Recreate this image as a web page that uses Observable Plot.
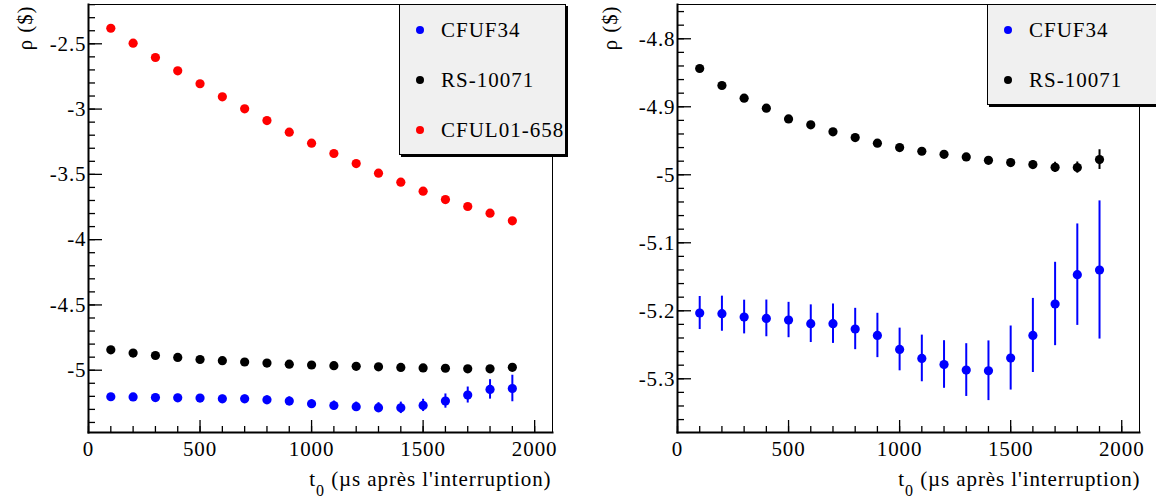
<!DOCTYPE html>
<html><head><meta charset="utf-8">
<script src="https://cdn.jsdelivr.net/npm/d3@7"></script>
<script src="https://cdn.jsdelivr.net/npm/@observablehq/plot@0.6"></script>
<style>
body{margin:0;background:#fff;overflow:hidden}
#wrap{position:relative;width:1156px;height:500px;display:flex;overflow:hidden;font-family:"Liberation Serif",serif}
#wrap svg, #wrap svg text{font-family:"Liberation Serif",serif !important}
#wrap svg text{letter-spacing:0.9px}
.legend{position:absolute;background:#f0f0f0;border:1px solid #000;box-shadow:2px 2px 0 #000;font-family:"Liberation Serif",serif;font-size:21px;letter-spacing:1px;box-sizing:border-box;color:#000}
.legend .row{position:absolute;height:24px;line-height:24px;white-space:nowrap}
.legend .sw{position:absolute;width:8px;height:8px;border-radius:50%;top:8px}
.legend .lab{position:absolute;top:0}
</style></head><body><div id="wrap"></div>
<script>
// ---- data ----
const t0 = [100,200,300,400,500,600,700,800,900,1000,1100,1200,1300,1400,1500,1600,1700,1800,1900];
const cfuf34    = [-5.2033,-5.2043,-5.2092,-5.2112,-5.2136,-5.219,-5.219,-5.2268,-5.2363,-5.2569,-5.2701,-5.279,-5.2872,-5.2882,-5.2695,-5.2363,-5.19,-5.1469,-5.14];
const cfuf34Err = [0.0243,0.0258,0.0248,0.027,0.026,0.0277,0.029,0.0304,0.0326,0.0314,0.0343,0.035,0.0388,0.0439,0.0471,0.0545,0.0613,0.0746,0.1016];
const rs10071    = [-4.8437,-4.8687,-4.8874,-4.9021,-4.9178,-4.9266,-4.9369,-4.9453,-4.9535,-4.960,-4.9654,-4.9699,-4.9737,-4.9787,-4.9821,-4.985,-4.989,-4.9894,-4.9777];
const rs10071Err = [0.001,0.001,0.0011,0.0012,0.0013,0.0015,0.0017,0.0019,0.0022,0.0025,0.0029,0.0033,0.0038,0.0043,0.005,0.0058,0.0074,0.0082,0.0145];
const cful01    = [-2.381,-2.495,-2.605,-2.707,-2.806,-2.906,-2.998,-3.088,-3.177,-3.261,-3.340,-3.417,-3.491,-3.560,-3.629,-3.693,-3.746,-3.797,-3.856];
const cful01Err = [0.002,0.002,0.002,0.002,0.002,0.002,0.002,0.002,0.002,0.002,0.002,0.002,0.002,0.003,0.003,0.003,0.003,0.003,0.003];

const seriesNames  = ["CFUF34","RS-10071","CFUL01-658"];
const seriesColors = ["#0000ff","#000000","#ff0000"];

const xTicks = [0,500,1000,1500,2000];
const xMinor = d3.range(0, 2001, 100);
const leftYTicks  = [-5,-4.5,-4,-3.5,-3,-2.5];
const leftYMinor  = d3.range(-54,-21).map(i => i/10);
const rightYTicks = [-5.3,-5.2,-5.1,-5,-4.9,-4.8];
const rightYMinor = d3.range(-268,-237).map(i => i/50);

const yLabel = "ρ ($)";
const xLabelSub = "0";
const xLabelRest = " (µs après l'interruption)";

const FONT = "Liberation Serif";
const FS = 21;

// ---- build tables ----
function rows(name, vals, errs) {
  return t0.map((t,i) => ({series:name, t, v: vals[i], lo: vals[i]-errs[i], hi: vals[i]+errs[i]}));
}
const allSeries = {
  "CFUF34": rows("CFUF34", cfuf34, cfuf34Err),
  "RS-10071": rows("RS-10071", rs10071, rs10071Err),
  "CFUL01-658": rows("CFUL01-658", cful01, cful01Err)
};

function panel({names, yDomain, yTicks, yMinor, ml, mr, ylDx, xlDx}) {
  const width = 578, height = 500, mt = 4, mb = 68;
  const W = width - ml - mr, H = height - mt - mb;
  const marks = [];
  for (const n of names) {
    const col = seriesColors[seriesNames.indexOf(n)];
    marks.push(Plot.ruleX(allSeries[n], {x:"t", y1:"lo", y2:"hi", stroke: col, strokeWidth: 2}));
    marks.push(Plot.dot(allSeries[n], {x:"t", y:"v", r:4.6, fill: col, stroke: null}));
  }
  const svg = Plot.plot({
    width, height, marginLeft: ml, marginRight: mr, marginTop: mt, marginBottom: mb,
    style: {fontFamily: FONT, fontSize: FS + "px", background: "white", overflow: "visible"},
    x: {domain: [0, 2080], axis: null},
    y: {domain: yDomain, axis: null},
    marks: [
      Plot.tickY(yMinor, {y: d => d, insetRight: W - 7, stroke: "black", strokeWidth: 1.3}),
      Plot.tickY(yTicks, {y: d => d, insetRight: W - 14, stroke: "black", strokeWidth: 1.3}),
      Plot.tickX(xMinor, {x: d => d, insetTop: H - 6, stroke: "black", strokeWidth: 1.3}),
      Plot.tickX(xTicks, {x: d => d, insetTop: H - 12, stroke: "black", strokeWidth: 1.3}),
      Plot.axisY(yTicks, {tickSize: 0, tickPadding: 2, tickFormat: d => String(d), fontSize: FS, fontFamily: FONT, label: null}),
      Plot.axisX(xTicks, {tickSize: 0, tickPadding: 9, tickFormat: d => String(d), fontSize: FS, fontFamily: FONT, label: null}),
      ...marks,
      Plot.frame({stroke: "black", strokeWidth: 1}),
      Plot.frame({anchor: "left", stroke: "black", strokeWidth: 2}),
      Plot.frame({anchor: "bottom", stroke: "black", strokeWidth: 2}),
      Plot.text([yLabel], {text: d => d, frameAnchor: "top-left", rotate: -90, textAnchor: "end", lineAnchor: "middle", dx: ylDx, dy: 1, fontSize: FS, fontFamily: FONT}),
      Plot.text(["t"], {text: d => d, frameAnchor: "bottom-right", textAnchor: "end", lineAnchor: "bottom", dx: xlDx, dy: 53, fontSize: FS, fontFamily: FONT, className: "xlab"})
    ]
  });
  svg.style.fontFamily = FONT;
  const tx = svg.querySelector(".xlab text");
  if (tx) {
    tx.textContent = "";
    const ns = "http://www.w3.org/2000/svg";
    tx.appendChild(document.createTextNode("t"));
    const s = document.createElementNS(ns, "tspan");
    s.setAttribute("dy", "10"); s.setAttribute("font-size", "16"); s.textContent = xLabelSub;
    tx.appendChild(s);
    const r = document.createElementNS(ns, "tspan");
    r.setAttribute("dy", "-10"); r.textContent = xLabelRest;
    tx.appendChild(r);
  }
  return svg;
}

const wrap = document.getElementById("wrap");
wrap.appendChild(panel({names: ["CFUF34","RS-10071","CFUL01-658"], yDomain: [-5.477, -2.199], yTicks: leftYTicks, yMinor: leftYMinor, ml: 88, mr: 26, ylDx: -63, xlDx: -1}));
wrap.appendChild(panel({names: ["CFUF34","RS-10071"], yDomain: [-5.379, -4.7496], yTicks: rightYTicks, yMinor: rightYMinor, ml: 99, mr: 17, ylDx: -67, xlDx: 1}));

function legend(names, left, top, w, h) {
  const L = document.createElement("div");
  L.className = "legend";
  Object.assign(L.style, {left: left+"px", top: top+"px", width: w+"px", height: h+"px"});
  names.forEach((n,i) => {
    const row = document.createElement("div");
    row.className = "row";
    row.style.top = (26 + 50*i - 12 - 1) + "px";
    row.style.left = "0px";
    const sw = document.createElement("div");
    sw.className = "sw"; sw.style.left = "16px"; sw.style.background = seriesColors[seriesNames.indexOf(n)];
    const lab = document.createElement("div");
    lab.className = "lab"; lab.style.left = "41px"; lab.textContent = n;
    row.appendChild(sw); row.appendChild(lab);
    L.appendChild(row);
  });
  wrap.appendChild(L);
}
legend(["CFUF34","RS-10071","CFUL01-658"], 399, 4, 167, 151);
legend(["CFUF34","RS-10071"], 987, 4, 180, 101);
</script></body></html>
